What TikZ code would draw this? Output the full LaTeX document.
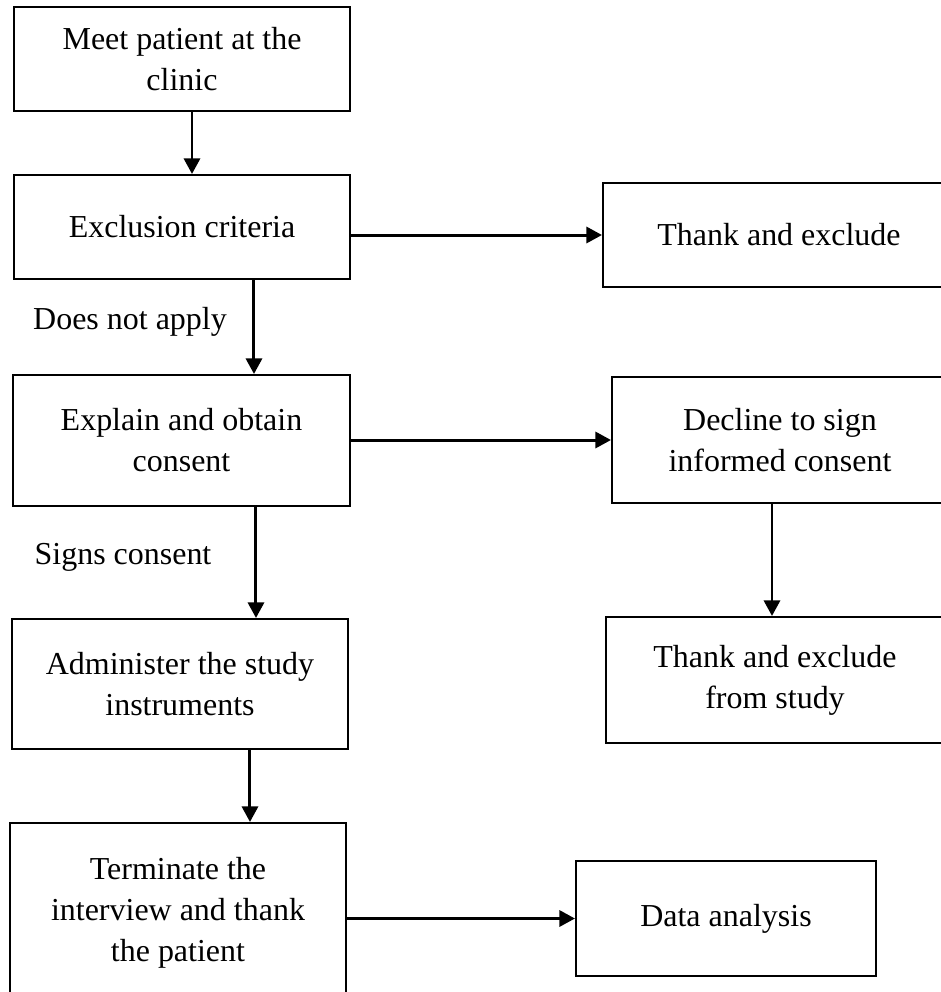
\documentclass[tikz,border=0pt]{standalone}
\usepackage{fontspec}
\setmainfont{Liberation Serif}
\usetikzlibrary{arrows.meta}

\begin{document}
\begin{tikzpicture}[x=0.02cm,y=-0.02cm,
    box/.style={draw,line width=1.2pt,align=center,inner sep=0pt,
        font=\fontsize{18.2}{23.3}\selectfont},
    arr/.style={line width=1.7pt,-{Triangle[length=0.31cm,width=0.32cm]}},
    lbl/.style={font=\fontsize{18.2}{23.3}\selectfont}]
    \useasboundingbox (0,0) rectangle (941,992);
    \clip (0,0) rectangle (941,992);

    \node[box,minimum width=6.72cm,minimum height=2.08cm] (1) at (182,59) {Meet patient at the\\clinic};
    \node[box,minimum width=6.72cm,minimum height=2.08cm] (2) at (182,227) {Exclusion criteria};
    \node[box,minimum width=7.04cm,minimum height=2.08cm] (3) at (779,235) {Thank and exclude};
    \node[box,minimum width=6.74cm,minimum height=2.62cm] (4) at (181.5,440.5) {Explain and obtain\\consent};
    \node[box,minimum width=6.72cm,minimum height=2.52cm] (5) at (780,440) {Decline to sign\\informed consent};
    \node[box,minimum width=6.72cm,minimum height=2.60cm] (6) at (180,684) {Administer the study\\instruments};
    \node[box,minimum width=6.76cm,minimum height=2.52cm] (7) at (775,680) {Thank and exclude\\from study};
    \node[box,minimum width=6.72cm,minimum height=3.60cm] (8) at (178,913) {Terminate the\\interview and thank\\the patient};
    \node[box,minimum width=6.00cm,minimum height=2.30cm] (9) at (726,918.5) {Data analysis};

    \node[lbl] (a) at (130,322) {Does not apply};
    \node[lbl] (b) at (123,557) {Signs consent};

    \draw[arr] ([xshift=0.2cm]1.south) -- ([xshift=0.2cm]2.north);
    \draw[arr] (2.east |- 3.west) -- (3.west);
    \draw[arr] ([xshift=1.44cm]2.south) coordinate (p) -- (p |- 4.north);
    \draw[arr] (4.east |- 5.west) -- (5.west);
    \draw[arr] ([xshift=1.49cm]4.south) coordinate (q) -- (q |- 6.north);
    \draw[arr] ([xshift=-0.16cm]5.south) coordinate (r) -- (r |- 7.north);
    \draw[arr] ([xshift=1.4cm]6.south) coordinate (s) -- (s |- 8.north);
    \draw[arr] (8.east |- 9.west) -- (9.west);

\end{tikzpicture}
\end{document}
